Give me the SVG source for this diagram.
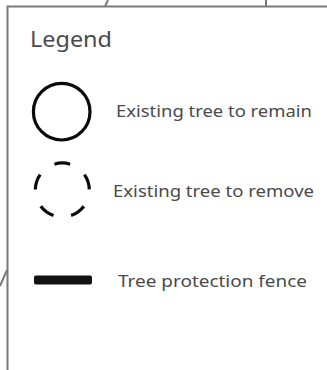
<svg xmlns="http://www.w3.org/2000/svg" width="327" height="370" viewBox="0 0 327 370">
<style>
.frame{stroke:#7a7a7a;stroke-width:2;fill:none}
.lbl{font-family:"Noto Sans","Liberation Sans",sans-serif;fill:#4a4a4a}
.sym{fill:none;stroke:#0a0a0a;stroke-width:3.2}
</style>
<rect width="327" height="370" fill="#ffffff"/>
<g id="frame">
<path class="frame" d="M7.5 370 V6.5 H327"/>
<path class="frame" d="M108 0 L105 6.5"/>
<path class="frame" d="M266 0 V6.5"/>
<path class="frame" d="M0 286 L7 270"/>
</g>
<g id="title">
<text class="lbl" x="30" y="47" font-size="22" textLength="82" lengthAdjust="spacingAndGlyphs" fill="#555">Legend</text>
</g>
<g id="remain">
<circle class="sym" cx="61.7" cy="111.7" r="28.3"/>
<text class="lbl" x="116" y="116.5" font-size="17" textLength="196" lengthAdjust="spacingAndGlyphs">Existing tree to remain</text>
</g>
<g id="remove">
<circle class="sym" cx="62.3" cy="190" r="27" pathLength="170" stroke-dasharray="16 18" stroke-width="3.5" transform="rotate(-107 62.3 190)"/>
<text class="lbl" x="113" y="196.5" font-size="17" textLength="201" lengthAdjust="spacingAndGlyphs">Existing tree to remove</text>
</g>
<g id="fence">
<rect x="34" y="275.5" width="58" height="9" rx="2" fill="#111"/>
<text class="lbl" x="118" y="287" font-size="17" textLength="189" lengthAdjust="spacingAndGlyphs">Tree protection fence</text>
</g>
</svg>
